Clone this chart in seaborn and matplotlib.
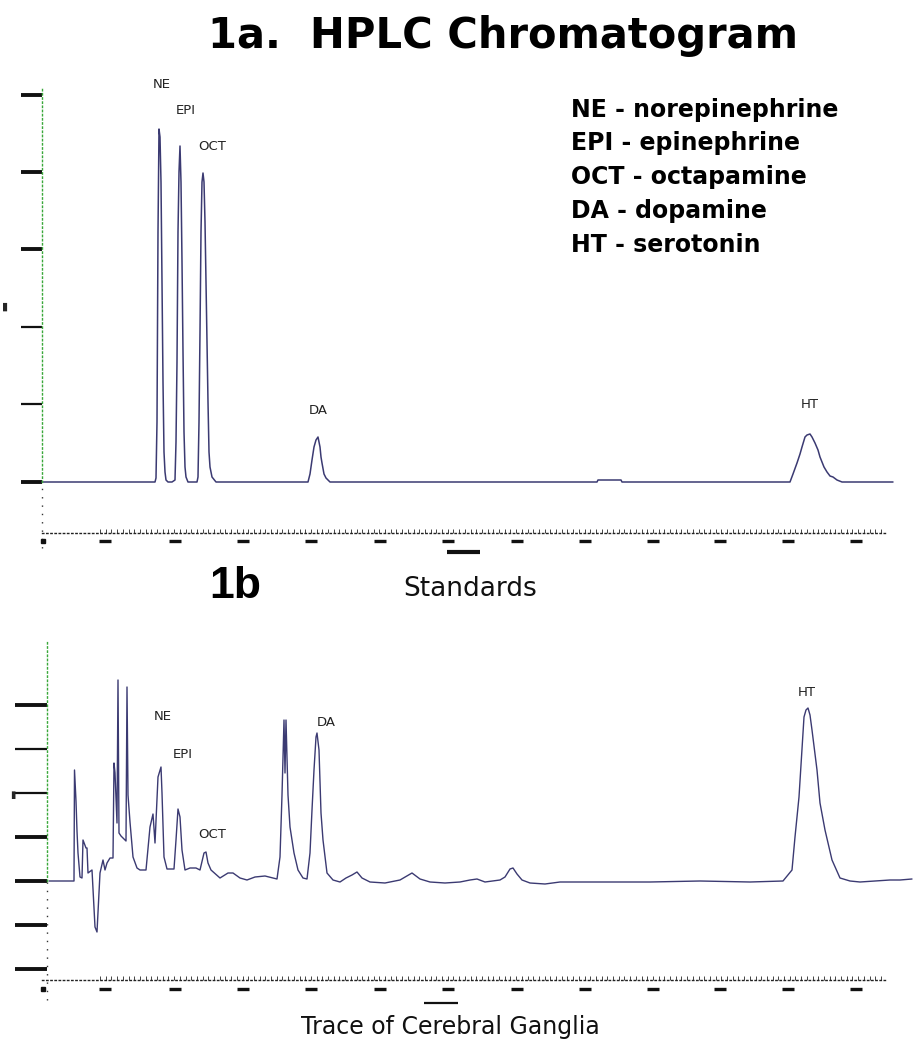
#!/usr/bin/env python
import numpy as np
import pandas as pd
import matplotlib
matplotlib.use("Agg")
import matplotlib.pyplot as plt
import seaborn as sns

# ---- 1a: standards trace (time in scan units, signal above baseline) ----
std_time = [42, 155, 156, 157, 158, 159, 160, 161, 162, 163, 164, 165, 166, 168,
            172, 175, 176, 177, 178, 179, 180, 181, 182, 183, 184, 185, 186, 188,
            197, 198, 199, 200, 201, 202, 203, 204, 205, 206, 207, 208, 209, 210, 212, 216,
            308, 310, 312, 314, 316, 318, 319, 320, 321, 322, 324, 326, 330,
            597, 598, 621, 622,
            790, 793, 797, 800, 802, 805, 807, 810, 812, 815, 818, 820, 824, 827,
            830, 833, 837, 842, 893]
std_signal = [0, 0, 4, 60, 250, 353, 345, 300, 200, 100, 30, 10, 2, 0,
              0, 2, 40, 120, 250, 310, 336, 300, 220, 130, 50, 15, 5, 0,
              0, 5, 60, 150, 250, 300, 309, 300, 260, 200, 140, 80, 30, 15, 5, 0,
              0, 8, 22, 35, 42, 45, 40, 35, 25, 19, 8, 4, 0,
              0, 2, 2, 0,
              0, 8, 19, 28, 35, 45, 47, 48, 45, 39, 32, 25, 15, 10,
              6, 5, 2, 0, 0]

# ---- 1b: cerebral ganglia trace ----
gang_time = [49, 74, 74.5, 76, 77, 78, 80, 82, 83, 86, 87, 88, 92, 95, 97, 98,
             100, 103, 105, 107, 110, 113, 114, 115, 117, 118, 119, 121, 126, 127,
             128, 130, 133, 137, 140, 146, 150, 153, 155, 158, 161, 162, 164, 167,
             174, 176, 178, 180, 182, 185, 190, 196, 200, 204, 206, 208, 211, 220,
             228, 233, 240, 247, 255, 265, 277, 280, 282, 284, 285, 286, 288, 290,
             294, 298, 303, 307, 310, 312, 314, 316, 317, 319, 321, 323, 327, 333,
             340, 346, 352, 357, 362, 370, 385, 400, 412, 420, 430, 445, 460, 470,
             477, 485, 500, 505, 510, 513, 517, 522, 530, 545, 560, 600, 650, 700,
             750, 783, 792, 795, 799, 802, 804, 806, 808, 810, 812, 817, 820, 825,
             832, 840, 850, 860, 875, 890, 900, 912]
gang_signal = [0, 0, 111, 80, 50, 28, 4, 3, 41, 33, 33, 8, 11, -46, -51, -32,
               8, 21, 11, 18, 23, 23, 118, 108, 58, 201, 48, 45, 40, 194,
               86, 59, 24, 13, 11, 11, 54, 67, 38, 104, 114, 88, 24, 12,
               12, 41, 72, 64, 31, 11, 13, 13, 11, 28, 29, 18, 11, 3,
               8, 8, 3, 1, 4, 5, 2, 24, 86, 161, 108, 161, 86, 54,
               28, 11, 3, 2, 28, 71, 111, 144, 148, 131, 68, 41, 8, 1,
               -1, 3, 6, 9, 3, -1, -2, 1, 8, 2, -1, -2, -1, 1,
               2, -1, 1, 4, 12, 13, 7, 1, -2, -3, -1, -1, -1, 0,
               -1, 0, 11, 44, 84, 131, 164, 171, 173, 166, 151, 111, 78, 51,
               21, 3, 0, -1, 0, 1, 1, 2]

peak_names = ["NE", "EPI", "OCT", "DA", "HT"]
std_label_time = [162, 186, 212, 318, 810]
std_label_signal = [397, 371, 336, 72, 77]
gang_label_time = [163, 183, 212, 326, 807]
gang_label_signal = [164, 126, 46, 159, 189]

legend_lines = ["NE - norepinephrine", "EPI - epinephrine", "OCT - octapamine",
                "DA - dopamine", "HT - serotonin"]

std_yticks = [0, 78, 155, 233, 310, 387]
gang_yticks = [-88, -44, 0, 44, 88, 132, 176]
x_major = [105, 175, 243, 311, 380, 448, 517, 585, 653, 720, 788, 856]

TRACE = "#3b3a72"
GREEN = "#3aa83a"

sns.set_style("white")
fig = plt.figure(figsize=(9.24, 10.5), dpi=100)


def chrom_axes(rect, ylim, left_x, base_y, yticks, thick, tick_len, spine_top, dash_y):
    ax = fig.add_axes(rect)
    ax.set_xlim(0, 924)
    ax.set_ylim(*ylim)
    for s in ["top", "right"]:
        ax.spines[s].set_visible(False)
    ax.spines["left"].set_position(("data", left_x))
    ax.spines["left"].set_bounds(0, spine_top)
    ax.spines["left"].set_color(GREEN)
    ax.spines["left"].set_linestyle((0, (1, 2)))
    ax.spines["left"].set_linewidth(1.0)
    # black dotted continuation of the signal axis below the baseline
    ax.vlines(left_x, ylim[0] + 12, 0, color="#333333", lw=1.0,
              linestyles=[(0, (1, 5))])
    ax.spines["bottom"].set_position(("data", base_y))
    ax.spines["bottom"].set_bounds(42, 885)
    ax.spines["bottom"].set_color("#222222")
    ax.spines["bottom"].set_linestyle((0, (1, 2)))
    ax.spines["bottom"].set_linewidth(1.0)
    ax.set_yticks(yticks)
    ax.set_yticklabels([])
    ax.tick_params(axis="y", direction="out", length=tick_len, width=2.8,
                   color="#111111", left=True)
    for t, v in zip(ax.yaxis.get_major_ticks(), yticks):
        if v not in thick:
            t.tick1line.set_markeredgewidth(1.6)
    ax.set_xticks(np.arange(100, 885, 5.7), minor=True)
    ax.set_xticks([])
    ax.tick_params(axis="x", which="minor", direction="in", length=3, width=0.7,
                   color="#444444", bottom=True)
    ax.plot(x_major, [dash_y] * len(x_major), ls="none", marker="_", ms=8.5,
            mew=2.4, color="#111111", clip_on=False)
    ax.plot([43], [dash_y], ls="none", marker="s", ms=3.5, color="#111111",
            clip_on=False)
    return ax


ax1 = chrom_axes([0, 1 - 560 / 1050, 1, 500 / 1050], (-78, 422), 42, -51,
                 std_yticks, [0, 233, 310, 387], 15, 395, -59)
ax2 = chrom_axes([0, 1 - 1012 / 1050, 1, 382 / 1050], (-131, 251), 47, -99,
                 gang_yticks, [-88, -44, 0, 176, 44], 23, 240, -108)

std = pd.DataFrame({"time": std_time, "signal": std_signal})
gang = pd.DataFrame({"time": gang_time, "signal": gang_signal})
sns.lineplot(data=std, x="time", y="signal", ax=ax1, color=TRACE, lw=1.1,
             estimator=None, sort=False)
sns.lineplot(data=gang, x="time", y="signal", ax=ax2, color=TRACE, lw=1.0,
             estimator=None, sort=False)
for ax in (ax1, ax2):
    ax.set_xlabel("")
    ax.set_ylabel("")

for n, x, y in zip(peak_names, std_label_time, std_label_signal):
    ax1.text(x, y, n, ha="center", va="center", fontsize=9.5, color="#222222")
for n, x, y in zip(peak_names, gang_label_time, gang_label_signal):
    ax2.text(x, y, n, ha="center", va="center", fontsize=9.5, color="#222222")

# injection bars under the time axes
ax1.hlines(-70, 447, 480, color="#111111", lw=3, clip_on=False)
ax2.hlines(-122, 424, 458, color="#111111", lw=1.6, clip_on=False)

fig.text(503 / 924, 1 - 48 / 1050, "1a.  HPLC Chromatogram", ha="center",
         va="baseline", fontsize=30, fontweight="bold", family="DejaVu Sans",
         color="black")
for i, line in enumerate(legend_lines):
    fig.text(571 / 924, 1 - (116.7 + 33.7 * i) / 1050, line, ha="left",
             va="baseline", fontsize=17, fontweight="bold", family="DejaVu Sans",
             color="black")
fig.text(235 / 924, 1 - 598 / 1050, "1b", ha="center", va="baseline",
         fontsize=32, fontweight="bold", family="Liberation Sans", color="black")
fig.text(470 / 924, 1 - 596 / 1050, "Standards", ha="center", va="baseline",
         fontsize=19, color="#111111")
fig.text(450 / 924, 1 - 1034 / 1050, "Trace of Cerebral Ganglia", ha="center",
         va="baseline", fontsize=17, color="#111111")
fig.text(5 / 924, 1 - 307 / 1050, "\u25ae", ha="center", va="center", fontsize=8)
fig.text(13 / 924, 1 - 795 / 1050, "\u25ae", ha="center", va="center", fontsize=7)

fig.savefig("out.png", dpi=100)
plt.close(fig)
